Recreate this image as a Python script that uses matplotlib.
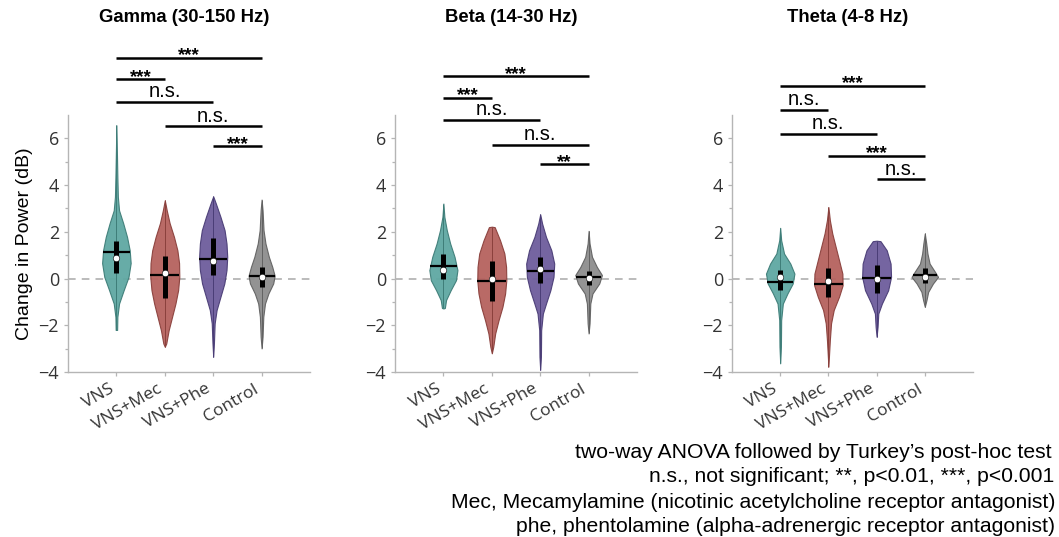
import numpy as np
import matplotlib.pyplot as plt
from matplotlib.transforms import ScaledTranslation

plt.rcParams['font.family'] = ['Liberation Sans', 'DejaVu Sans']

groups = ['VNS', 'VNS+Mec', 'VNS+Phe', 'Control']
bands = ['Gamma (30-150 Hz)', 'Beta (14-30 Hz)', 'Theta (4-8 Hz)']
colors = ['#5fa8a2', '#b5625e', '#6e5d9c', '#8d8d8d']
edges = ['#3e7d78', '#8a403c', '#4a3d76', '#626262']

# violin outlines: y levels and half widths (x units)
gamma_y = [
    [6.56, 4.35, 3.5, 2.92, 2.37, 1.78, 1.21, 0.66, 0.07, -0.5, -1.07, -1.64, -2.2],
    [3.35, 2.92, 2.37, 1.78, 1.21, 0.66, 0.07, -0.5, -1.07, -1.64, -2.21, -2.78, -2.92],
    [3.52, 3.21, 2.64, 2.07, 1.5, 0.93, 0.36, -0.21, -0.78, -1.35, -1.92, -2.77, -3.35],
    [3.38, 2.92, 2.07, 1.5, 0.93, 0.5, 0.12, -0.21, -0.64, -1.07, -1.64, -2.49, -2.99],
]
gamma_w = [
    [0.0, 0.02, 0.03, 0.055, 0.14, 0.22, 0.275, 0.295, 0.25, 0.15, 0.055, 0.02, 0.015],
    [0.0, 0.04, 0.10, 0.19, 0.26, 0.295, 0.30, 0.275, 0.22, 0.15, 0.08, 0.03, 0.0],
    [0.0, 0.055, 0.15, 0.235, 0.275, 0.29, 0.275, 0.23, 0.15, 0.07, 0.03, 0.015, 0.0],
    [0.0, 0.02, 0.04, 0.08, 0.15, 0.22, 0.27, 0.24, 0.14, 0.07, 0.035, 0.02, 0.0],
]
gamma_mean = [1.12, 0.15, 0.83, 0.10]
gamma_median = [0.86, 0.22, 0.74, 0.08]
gamma_q1 = [0.24, -0.85, 0.15, -0.35]
gamma_q3 = [1.6, 0.97, 1.74, 0.5]

beta_y = [
    [3.21, 2.64, 2.07, 1.5, 0.93, 0.36, -0.07, -0.5, -0.92, -1.26, -1.28],
    [2.22, 2.2, 1.64, 1.07, 0.5, -0.07, -0.64, -1.21, -1.78, -2.35, -2.92, -3.2],
    [2.75, 2.35, 1.78, 1.21, 0.64, 0.07, -0.5, -1.07, -1.5, -2.21, -3.35, -3.91],
    [2.04, 1.5, 0.93, 0.5, 0.15, -0.21, -0.64, -1.07, -1.92, -2.35],
]
beta_w = [
    [0.0, 0.02, 0.07, 0.14, 0.23, 0.29, 0.26, 0.15, 0.055, 0.03, 0.0],
    [0.0, 0.06, 0.17, 0.26, 0.295, 0.30, 0.275, 0.22, 0.14, 0.07, 0.03, 0.0],
    [0.0, 0.04, 0.12, 0.23, 0.29, 0.275, 0.21, 0.12, 0.055, 0.02, 0.015, 0.0],
    [0.0, 0.02, 0.07, 0.17, 0.275, 0.22, 0.08, 0.035, 0.02, 0.0],
]
beta_mean = [0.53, -0.11, 0.33, 0.06]
beta_median = [0.36, 0.0, 0.4, 0.03]
beta_q1 = [0.0, -0.95, -0.18, -0.28]
beta_q3 = [1.07, 0.74, 0.93, 0.32]

theta_y = [
    [2.17, 1.64, 1.07, 0.64, 0.21, -0.21, -0.64, -1.07, -1.78, -2.92, -3.63],
    [3.06, 2.5, 1.93, 1.36, 0.79, 0.21, -0.29, -0.78, -1.35, -1.92, -2.63, -3.77],
    [1.62, 1.6, 1.21, 0.64, 0.07, -0.5, -1.07, -1.5, -2.07, -2.49],
    [1.93, 1.5, 1.07, 0.64, 0.29, 0.07, -0.21, -0.57, -0.92, -1.21],
]
theta_w = [
    [0.0, 0.02, 0.08, 0.21, 0.295, 0.26, 0.15, 0.055, 0.02, 0.015, 0.0],
    [0.0, 0.03, 0.08, 0.15, 0.22, 0.29, 0.295, 0.22, 0.11, 0.055, 0.03, 0.0],
    [0.0, 0.08, 0.21, 0.29, 0.30, 0.24, 0.11, 0.035, 0.02, 0.0],
    [0.0, 0.03, 0.055, 0.10, 0.21, 0.275, 0.17, 0.07, 0.035, 0.0],
]
theta_mean = [-0.14, -0.24, 0.03, 0.15]
theta_median = [0.05, -0.11, 0.0, 0.08]
theta_q1 = [-0.5, -0.81, -0.61, -0.21]
theta_q3 = [0.36, 0.43, 0.6, 0.43]

# pairwise comparisons (group index pairs), their labels and bar heights
sig_pairs = [(0, 3), (0, 1), (0, 2), (1, 3), (2, 3)]
gamma_sig = ['***', '***', 'n.s.', 'n.s.', '***']
beta_sig = ['***', '***', 'n.s.', 'n.s.', '**']
theta_sig = ['***', 'n.s.', 'n.s.', '***', 'n.s.']
gamma_sig_y = [9.46, 8.52, 7.54, 6.51, 5.67]
beta_sig_y = [8.66, 7.74, 6.77, 5.73, 4.89]
theta_sig_y = [8.24, 7.2, 6.2, 5.26, 4.24]

notes = ["two-way ANOVA followed by Turkey\u2019s post-hoc test",
         "n.s., not significant; **, p<0.01, ***, p<0.001",
         "Mec, Mecamylamine (nicotinic acetylcholine receptor antagonist)",
         "phe, phentolamine (alpha-adrenergic receptor antagonist)"]


def draw_panel(ax, title, prof_y, prof_w, means, medians, q1, q3, labels, sig_y):
    pos = np.arange(len(groups))
    stats, widths = [], []
    for yy, ww, m, md in zip(prof_y, prof_w, means, medians):
        yy = np.array(yy, float)
        ww = np.array(ww, float)
        stats.append(dict(coords=yy, vals=ww, mean=m, median=md,
                          min=yy.min(), max=yy.max()))
        widths.append(2 * ww.max())
    parts = ax.violin(stats, positions=pos, widths=widths, showmeans=False,
                      showextrema=False, showmedians=False)
    for body, c, e in zip(parts['bodies'], colors, edges):
        body.set_facecolor(c)
        body.set_edgecolor(e)
        body.set_alpha(0.95)
        body.set_linewidth(0.8)
        body.set_zorder(2)

    ax.axhline(0, color='#a8a8a8', lw=1.1, ls=(0, (5, 4)), zorder=1)

    for i, (yy, ww) in enumerate(zip(prof_y, prof_w)):
        ax.vlines(pos[i], min(yy), max(yy), color=edges[i], lw=0.7, zorder=3)
        ax.vlines(pos[i], q1[i], q3[i], color='black', lw=3.6, zorder=4)
        order = np.argsort(yy)
        hw = np.interp(means[i], np.array(yy)[order], np.array(ww)[order])
        ax.hlines(means[i], pos[i] - hw, pos[i] + hw, color='black', lw=1.6, zorder=5)
        ax.scatter(pos[i], medians[i], s=22, color='white', edgecolor='black',
                   linewidth=0.4, zorder=6)

    for (a, b), lab, h in zip(sig_pairs, labels, sig_y):
        ax.hlines(h, pos[a], pos[b], color='black', lw=1.8, clip_on=False)
        if lab.startswith('*'):
            ax.text((pos[a] + pos[b]) / 2, h - 0.28, lab, ha='center', va='bottom',
                    fontsize=13.5, fontweight='bold', clip_on=False)
        else:
            ax.text((pos[a] + pos[b]) / 2, h + 0.04, lab, ha='center', va='bottom',
                    fontsize=14.5, clip_on=False)

    ax.set_xlim(-1, 4)
    ax.set_ylim(-4, 7)
    ax.set_yticks([-4, -2, 0, 2, 4, 6])
    ax.set_yticks([-3, -1, 1, 3, 5], minor=True)
    ax.set_xticks(pos)
    ax.set_xticklabels(groups, rotation=30, ha='right', fontsize=12.5,
                       family='Open Sans', color='#333333')
    for lbl in ax.get_xticklabels():
        lbl.set_transform(lbl.get_transform() + ScaledTranslation(0.05, 0, ax.figure.dpi_scale_trans))
    for lbl in ax.get_yticklabels():
        lbl.set_family('Open Sans')
    ax.tick_params(axis='y', labelsize=13, labelcolor='#333333')
    ax.tick_params(which='both', color='#b5b5b5', length=3, width=0.9)
    ax.tick_params(which='minor', length=2)
    for s in ['top', 'right']:
        ax.spines[s].set_visible(False)
    for s in ['left', 'bottom']:
        ax.spines[s].set_color('#b5b5b5')
        ax.spines[s].set_linewidth(1)
    bb = ax.get_position()
    ax.figure.text(bb.x0 + bb.width * 0.48, 1 - 18 / 537, title, ha='center', va='center',
                   fontsize=13.3, fontweight='bold')


fig = plt.figure(figsize=(10.59, 5.37), dpi=100)
W, H = 1059, 537
ax1 = fig.add_axes([68 / W, 1 - 372 / H, 242 / W, 257 / H])
ax2 = fig.add_axes([395 / W, 1 - 372 / H, 242 / W, 257 / H])
ax3 = fig.add_axes([732 / W, 1 - 372 / H, 241 / W, 257 / H])

draw_panel(ax1, bands[0], gamma_y, gamma_w, gamma_mean, gamma_median, gamma_q1, gamma_q3,
           gamma_sig, gamma_sig_y)
draw_panel(ax2, bands[1], beta_y, beta_w, beta_mean, beta_median, beta_q1, beta_q3,
           beta_sig, beta_sig_y)
draw_panel(ax3, bands[2], theta_y, theta_w, theta_mean, theta_median, theta_q1, theta_q3,
           theta_sig, theta_sig_y)

ax1.set_ylabel('Change in Power (dB)', fontsize=14, labelpad=4)

for note, xr, yc in zip(notes, [1052, 1054, 1055, 1055], [452, 477, 502, 527]):
    fig.text(xr / W, 1 - yc / H, note, ha='right', va='center', fontsize=15.2)

fig.savefig('out.png', dpi=100)
